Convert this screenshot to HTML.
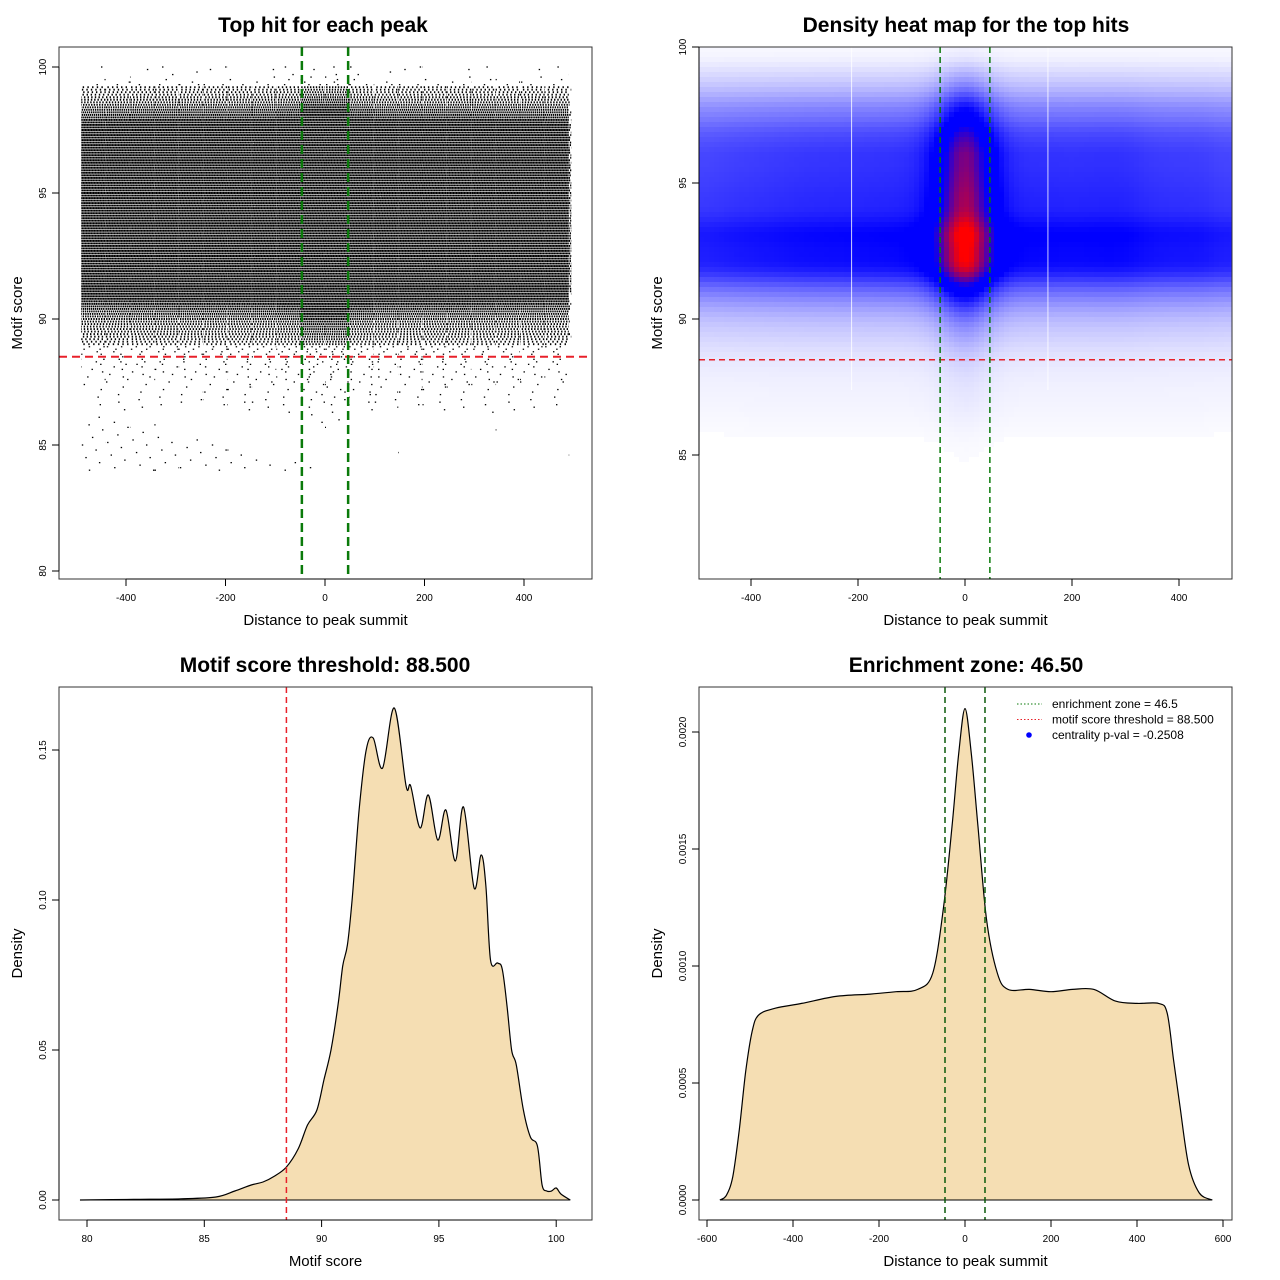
<!DOCTYPE html>
<html><head><meta charset="utf-8"><style>
html,body{margin:0;padding:0;background:#fff;}
svg{display:block;font-family:"Liberation Sans",sans-serif;}
</style></head><body>
<svg id="fig" width="1280" height="1280" viewBox="0 0 1280 1280" xmlns="http://www.w3.org/2000/svg">
<rect x="0" y="0" width="1280" height="1280" fill="#fff"/>
<text x="323" y="32" font-size="21" font-weight="bold" text-anchor="middle">Top hit for each peak</text>
<text x="966" y="32" font-size="21" font-weight="bold" text-anchor="middle">Density heat map for the top hits</text>
<text x="325" y="672" font-size="21" font-weight="bold" text-anchor="middle">Motif score threshold: 88.500</text>
<text x="966" y="672" font-size="21" font-weight="bold" text-anchor="middle">Enrichment zone: 46.50</text>
<g id="p1"></g>
<g id="p2"></g>
<g id="p3"></g>
<g id="p4"></g>
</svg>
<script>
// ---- data ----
const scoreValues = [79.7,82,84,85.5,86.3,87,87.5,88,88.5,89,89.4,89.8,90.1,90.4,90.7,90.9,91.1,91.3,91.6,91.9,92.2,92.6,93.1,93.6,93.8,94.2,94.55,94.95,95.3,95.7,96.05,96.5,96.8,97.0,97.2,97.5,97.7,97.9,98.1,98.3,98.6,98.9,99.2,99.4,99.6,99.8,100,100.2,100.6];
const scoreDensity = [0,0.0002,0.0004,0.001,0.003,0.005,0.006,0.008,0.011,0.017,0.025,0.03,0.04,0.05,0.065,0.078,0.085,0.1,0.13,0.15,0.154,0.144,0.164,0.138,0.138,0.124,0.135,0.12,0.13,0.113,0.131,0.104,0.115,0.105,0.08,0.079,0.077,0.065,0.05,0.045,0.03,0.021,0.018,0.005,0.003,0.003,0.004,0.002,0];
const distValues = [-570,-555,-540,-525,-510,-495,-480,-440,-380,-300,-220,-160,-110,-75,-50,-30,-15,0,15,30,50,75,100,150,200,250,300,350,400,450,470,485,500,520,545,575];
const distDensity = [0,0.00002,0.0001,0.0003,0.00055,0.00072,0.00079,0.00082,0.00084,0.00087,0.00088,0.00089,0.0009,0.00097,0.00125,0.0016,0.0019,0.0021,0.0019,0.0016,0.0012,0.00097,0.0009,0.0009,0.00089,0.0009,0.0009,0.00085,0.00084,0.00084,0.0008,0.0006,0.0004,0.00015,0.00003,0];
const scoreThreshold = 88.5;
const enrichmentZone = 46.5;
const p1XTicks = [-400,-200,0,200,400];
const p1YTicks = [80,85,90,95,100];
const p2XTicks = [-400,-200,0,200,400];
const p2YTicks = [85,90,95,100];
const p3XTicks = [80,85,90,95,100];
const p3YTicks = [0,0.05,0.10,0.15];
const p3YLabels = ["0.00","0.05","0.10","0.15"];
const p4XTicks = [-600,-400,-200,0,200,400,600];
const p4YTicks = [0,0.0005,0.001,0.0015,0.002];
const p4YLabels = ["0.0000","0.0005","0.0010","0.0015","0.0020"];

const NS="http://www.w3.org/2000/svg";
function mk(parent,tag,attrs){const e=document.createElementNS(NS,tag);for(const k in attrs)e.setAttribute(k,attrs[k]);parent.appendChild(e);return e;}
function lin(d0,d1,r0,r1){return v=>r0+(v-d0)*(r1-r0)/(d1-d0);}
function interp(xs,ys,v){if(v<=xs[0])return ys[0];if(v>=xs[xs.length-1])return ys[ys.length-1];for(let i=1;i<xs.length;i++){if(v<=xs[i]){const t=(v-xs[i-1])/(xs[i]-xs[i-1]);return ys[i-1]+t*(ys[i]-ys[i-1]);}}return 0;}
function smoothPath(pts){let d="M"+pts[0][0].toFixed(1)+","+pts[0][1].toFixed(1);for(let i=0;i<pts.length-1;i++){const p0=pts[Math.max(0,i-1)],p1=pts[i],p2=pts[i+1],p3=pts[Math.min(pts.length-1,i+2)];const c1=[p1[0]+(p2[0]-p0[0])/6,p1[1]+(p2[1]-p0[1])/6];const c2=[p2[0]-(p3[0]-p1[0])/6,p2[1]-(p3[1]-p1[1])/6];d+=" C"+c1[0].toFixed(1)+","+c1[1].toFixed(1)+" "+c2[0].toFixed(1)+","+c2[1].toFixed(1)+" "+p2[0].toFixed(1)+","+p2[1].toFixed(1);}return d;}

function axes(g,box,xs,ys,xt,xl,yt,yl,xtitle,ytitle){
  const fr=mk(g,"rect",{x:box.l,y:box.t,width:box.r-box.l,height:box.b-box.t,fill:"none",stroke:"#333","stroke-width":1});
  
  
  const xa=mk(g,"g",{});
  
  
  mk(xa,"line",{x1:xs(xt[0]),x2:xs(xt[xt.length-1]),y1:box.b,y2:box.b,stroke:"#000"});
  xt.forEach((v,i)=>{const x=xs(v);mk(xa,"line",{x1:x,x2:x,y1:box.b,y2:box.b+7,stroke:"#000"});
    const t=mk(xa,"text",{x:x,y:box.b+22,"font-size":10,"text-anchor":"middle"});t.textContent=xl[i];
    
    });
  const ya=mk(g,"g",{});
  
  
  mk(ya,"line",{x1:box.l,x2:box.l,y1:ys(yt[0]),y2:ys(yt[yt.length-1]),stroke:"#000"});
  yt.forEach((v,i)=>{const y=ys(v);mk(ya,"line",{x1:box.l,x2:box.l-7,y1:y,y2:y,stroke:"#000"});
    const t=mk(ya,"text",{x:0,y:0,"font-size":10,"text-anchor":"middle",transform:"translate("+(box.l-13)+","+y+") rotate(-90)"});t.textContent=yl[i];
    
    });
  const xtt=mk(g,"text",{x:(box.l+box.r)/2,y:box.b+46,"font-size":15,"text-anchor":"middle"});xtt.textContent=xtitle;
  
  
  const ytt=mk(g,"text",{x:0,y:0,"font-size":15,"text-anchor":"middle",transform:"translate("+(box.l-37)+","+((box.t+box.b)/2)+") rotate(-90)"});ytt.textContent=ytitle;
  
  
}
const sMax=Math.max(...scoreDensity), dMax=Math.max(...distDensity);
const plateau=interp(distValues,distDensity,-300);
function smoothScore(s){let a=0,n=0;for(let k=-4;k<=4;k++){const w=Math.exp(-k*k/8);a+=w*interp(scoreValues,scoreDensity,s+k*0.15);n+=w;}return a/n;}

// ---- Panel 1: scatter rows ----
(function(){
  const g=document.getElementById("p1");
  const box={l:59,t:47,r:592,b:579};
  const xs=lin(0,100,325,374.75), ys=lin(100,95,67,193);
  const pts=mk(g,"g",{});
  
  
  let k=0;
  for(let s=84;s<=100.05;s+=0.1){
    const r=interp(scoreValues,scoreDensity,s)/sMax;
    k++;
    if(r<=0)continue;
    for(let d=-490;d<495;d+=49){
      const gd=Math.min(1.6,interp(distValues,distDensity,d+24)/plateau);
      const rr=Math.min(1,r*2.4*gd);
      const gap=(r<0.1)?(1.4*(1/rr-1)*2.5+0.3):(1.0*(1/rr-1)+0.15);
      const ln=mk(pts,"line",{x1:xs(d),x2:xs(Math.min(d+49,495)),y1:ys(s),y2:ys(s),stroke:"#000","stroke-width":r<0.1?1.3:1.9,"stroke-dasharray":"1.4 "+gap.toFixed(2),"stroke-dashoffset":((k*37.3+d*1.71)%61).toFixed(1)});
      
      
    }
  }
  const th=mk(g,"line",{x1:box.l,x2:box.r,y1:ys(scoreThreshold),y2:ys(scoreThreshold),stroke:"#e8202a","stroke-width":2,"stroke-dasharray":"8 5"});
  
  
  [-enrichmentZone,enrichmentZone].forEach(v=>{const l=mk(g,"line",{x1:xs(v),x2:xs(v),y1:box.t,y2:box.b,stroke:"#0a7a0a","stroke-width":2.5,"stroke-dasharray":"9 5"});
    
    });
  axes(g,box,xs,ys,p1XTicks,p1XTicks.map(String),p1YTicks,p1YTicks.map(String),"Distance to peak summit","Motif score");
})();

// ---- Panel 2: heatmap ----
(function(){
  const g=document.getElementById("p2");
  const box={l:699,t:47,r:1232,b:579};
  const xs=lin(0,100,965,1018.5), ys=lin(100,95,47,183);
  const cells=mk(g,"g",{"shape-rendering":"crispEdges"});
  
  
  const cs=5;
  for(let py=box.t;py<box.b;py+=cs){
    const s=100-(py+cs/2-47)/27.2;
    const fs=smoothScore(s)/sMax;
    for(let px=box.l;px<box.r;px+=cs){
      const d=(px+cs/2-965)/0.535;
      let fd=0,n=0;for(let q=-3;q<=3;q++){const w=Math.exp(-q*q/4);fd+=w*interp(distValues,distDensity,Math.max(-470,Math.min(470,d+q*12)));n+=w;}
      fd=fd/n/dMax;
      const v=fs*fd;
      if(v<0.004)continue;
      let R,G,B;
      if(v<0.4){const u=Math.pow(v/0.4,0.9);R=255*(1-u);G=255*(1-u);B=255;}
      else if(v<0.52){R=0;G=0;B=255;}
      else{const u=Math.min(1,(v-0.52)/0.3);R=255*u;G=0;B=255*(1-u);}
      const c=mk(cells,"rect",{x:px,y:py,width:Math.min(cs,box.r-px),height:Math.min(cs,box.b-py),fill:"rgb("+(R|0)+","+(G|0)+","+(B|0)+")"});
      
      
    }
  }
  [-212,155].forEach(v=>{const l=mk(g,"line",{x1:xs(v),x2:xs(v),y1:box.t,y2:390,stroke:"#fff","stroke-width":1,opacity:0.8});
    
    });
  const th=mk(g,"line",{x1:box.l,x2:box.r,y1:ys(scoreThreshold),y2:ys(scoreThreshold),stroke:"#e8202a","stroke-width":1.5,"stroke-dasharray":"6 4"});
  
  
  [-enrichmentZone,enrichmentZone].forEach(v=>{const l=mk(g,"line",{x1:xs(v),x2:xs(v),y1:box.t,y2:box.b,stroke:"#0a7a0a","stroke-width":1.5,"stroke-dasharray":"6 4"});
    
    });
  axes(g,box,xs,ys,p2XTicks,p2XTicks.map(String),p2YTicks,p2YTicks.map(String),"Distance to peak summit","Motif score");
})();

// ---- Panel 3: score density ----
(function(){
  const g=document.getElementById("p3");
  const box={l:59,t:687,r:592,b:1220};
  const xs=lin(80,85,87,204.3), ys=lin(0,0.05,1200,1050);
  const pts=scoreValues.map((v,i)=>[xs(v),ys(scoreDensity[i])]);
  const d=smoothPath(pts);
  const area=mk(g,"path",{d:d+" L"+pts[pts.length-1][0]+","+ys(0)+" L"+pts[0][0]+","+ys(0)+" Z",fill:"#f5deb3",stroke:"none"});
  
  
  const base=mk(g,"line",{x1:pts[0][0],x2:pts[pts.length-1][0],y1:ys(0),y2:ys(0),stroke:"#000","stroke-width":1});
  
  
  const ln=mk(g,"path",{d:d,fill:"none",stroke:"#000","stroke-width":1.2});
  
  
  const th=mk(g,"line",{x1:xs(scoreThreshold),x2:xs(scoreThreshold),y1:box.t,y2:box.b,stroke:"#e8202a","stroke-width":1.5,"stroke-dasharray":"6 4"});
  
  
  axes(g,box,xs,ys,p3XTicks,p3XTicks.map(String),p3YTicks,p3YLabels,"Motif score","Density");
})();

// ---- Panel 4: distance density ----
(function(){
  const g=document.getElementById("p4");
  const box={l:699,t:687,r:1232,b:1220};
  const xs=lin(0,200,965,1051), ys=lin(0,0.0005,1200,1083);
  const pts=distValues.map((v,i)=>[xs(v),ys(distDensity[i])]);
  const d=smoothPath(pts);
  const area=mk(g,"path",{d:d+" L"+pts[pts.length-1][0]+","+ys(0)+" L"+pts[0][0]+","+ys(0)+" Z",fill:"#f5deb3",stroke:"none"});
  
  
  const base=mk(g,"line",{x1:pts[0][0],x2:pts[pts.length-1][0],y1:ys(0),y2:ys(0),stroke:"#000","stroke-width":1});
  
  
  const ln=mk(g,"path",{d:d,fill:"none",stroke:"#000","stroke-width":1.2});
  
  
  [-enrichmentZone,enrichmentZone].forEach(v=>{const l=mk(g,"line",{x1:xs(v),x2:xs(v),y1:box.t,y2:box.b,stroke:"#0a5a0a","stroke-width":1.5,"stroke-dasharray":"6 4"});
    
    });
  axes(g,box,xs,ys,p4XTicks,p4XTicks.map(String),p4YTicks,p4YLabels,"Distance to peak summit","Density");
  const lg=mk(g,"g",{});
  
  
  const items=[["enrichment zone = 46.5","#0a7a0a","line"],["motif score threshold = 88.500","#e8202a","line"],["centrality p-val = -0.2508","#0000ff","dot"]];
  items.forEach((it,i)=>{const y=704+i*15.5;
    const e=mk(lg,"g",{});
    
    
    if(it[2]==="line")mk(e,"line",{x1:1017,x2:1042,y1:y,y2:y,stroke:it[1],"stroke-width":1,"stroke-dasharray":"1.5 2"});
    else mk(e,"circle",{cx:1029,cy:y,r:2.8,fill:it[1]});
    const t=mk(e,"text",{x:1052,y:y+4,"font-size":12});t.textContent=it[0];});
})();
</script>
</body></html>
